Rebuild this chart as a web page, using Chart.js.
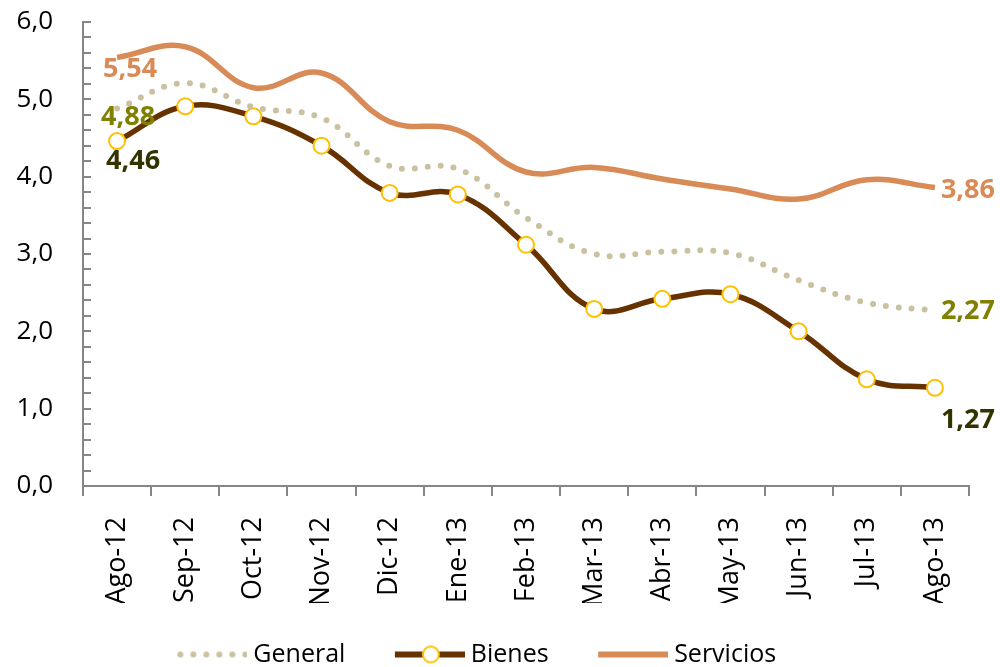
<!DOCTYPE html>
<html>
<head>
<meta charset="utf-8">
<script src="https://cdn.jsdelivr.net/npm/chart.js@4.4.0/dist/chart.umd.min.js"></script>
<style>
  html, body { margin: 0; padding: 0; background: #fff; }
  #wrap { width: 1000px; height: 667px; }
</style>
</head>
<body>
<div id="wrap"><canvas id="chart" width="1000" height="667"></canvas></div>
<script>
const months = ['Ago-12', 'Sep-12', 'Oct-12', 'Nov-12', 'Dic-12', 'Ene-13', 'Feb-13',
                'Mar-13', 'Abr-13', 'May-13', 'Jun-13', 'Jul-13', 'Ago-13'];
const general   = [4.88, 5.21, 4.90, 4.76, 4.14, 4.10, 3.47, 3.00, 3.03, 3.01, 2.66, 2.37, 2.27];
const bienes    = [4.46, 4.91, 4.78, 4.40, 3.79, 3.77, 3.12, 2.29, 2.42, 2.48, 2.00, 1.38, 1.27];
const servicios = [5.54, 5.68, 5.15, 5.34, 4.71, 4.60, 4.06, 4.12, 3.97, 3.84, 3.71, 3.96, 3.86];
const yTicks = [0, 1, 2, 3, 4, 5, 6];

const colGeneral = '#C9C19F';
const colBienes = '#663300';
const colServicios = '#D88B56';
const axisGray = '#868686';

const fmt = v => v.toFixed(2).replace('.', ',');

// where the first/last value labels sit, relative to the point
const labelStyle = [
  { color: '#808000', first: [11, 9],  last: [33, 1] },
  { color: '#333300', first: [16, 20], last: [33, 33] },
  { color: colServicios, first: [13, 12], last: [33, 3] }
];

function legendIcon(kind) {
  const c = document.createElement('canvas');
  c.width = 87; c.height = 22;
  const g = c.getContext('2d');
  const y = 11;
  if (kind === 'dots') {
    g.fillStyle = colGeneral;
    for (let i = 0; i < 6; i++) {
      g.beginPath(); g.arc(20 + i * 13, y, 3, 0, Math.PI * 2); g.fill();
    }
  } else {
    g.strokeStyle = kind === 'bienes' ? colBienes : colServicios;
    g.lineWidth = 6;
    g.beginPath(); g.moveTo(17, y); g.lineTo(87, y); g.stroke();
    if (kind === 'bienes') {
      g.fillStyle = '#fff';
      g.strokeStyle = '#FFC000';
      g.lineWidth = 2;
      g.beginPath(); g.arc(53, y, 8, 0, Math.PI * 2); g.fill(); g.stroke();
    }
  }
  return c;
}
const icons = [legendIcon('dots'), legendIcon('bienes'), legendIcon('servicios')];

const yMinorTicks = {
  id: 'yMinorTicks',
  afterDatasetsDraw(chart) {
    const { ctx, scales: { y }, chartArea } = chart;
    ctx.save();
    ctx.strokeStyle = axisGray;
    ctx.lineWidth = 2;
    for (let i = 0; i <= 30; i++) {
      const py = Math.round(y.getPixelForValue(i * 0.2));
      ctx.beginPath();
      ctx.moveTo(chartArea.left, py);
      ctx.lineTo(chartArea.left + 8, py);
      ctx.stroke();
    }
    ctx.restore();
  }
};

const endLabels = {
  id: 'endLabels',
  afterDatasetsDraw(chart) {
    const ctx = chart.ctx;
    ctx.save();
    ctx.font = 'bold 27px "Open Sans"';
    ctx.textAlign = 'center';
    ctx.textBaseline = 'middle';
    chart.data.datasets.forEach((ds, di) => {
      const meta = chart.getDatasetMeta(di);
      const st = labelStyle[di];
      ctx.fillStyle = st.color;
      const n = ds.data.length - 1;
      [[0, st.first], [n, st.last]].forEach(([i, off]) => {
        const p = meta.data[i];
        ctx.fillText(fmt(ds.data[i]), p.x + off[0], p.y + off[1]);
      });
    });
    ctx.restore();
  }
};

new Chart(document.getElementById('chart'), {
  type: 'line',
  data: {
    labels: months,
    datasets: [
      {
        label: 'General',
        data: general,
        borderColor: colGeneral,
        borderWidth: 6,
        borderDash: [0, 13],
        borderCapStyle: 'round',
        pointRadius: 0,
        tension: 0.4
      },
      {
        label: 'Bienes',
        data: bienes,
        borderColor: colBienes,
        borderWidth: 5.5,
        pointRadius: 8,
        pointBorderWidth: 2,
        pointBackgroundColor: '#fff',
        pointBorderColor: '#FFC000',
        tension: 0.4
      },
      {
        label: 'Servicios',
        data: servicios,
        borderColor: colServicios,
        borderWidth: 5.5,
        pointRadius: 0,
        tension: 0.4
      }
    ]
  },
  options: {
    responsive: false,
    animation: false,
    layout: { padding: { top: 22, right: 31, bottom: -10, left: -26 } },
    plugins: {
      tooltip: { enabled: false },
      legend: {
        position: 'bottom',
        labels: {
          color: '#000',
          font: { family: '"Open Sans"', size: 25 },
          padding: 39,
          usePointStyle: true,
          pointStyleWidth: 74,
          generateLabels: chart => chart.data.datasets.map((ds, i) => ({
            text: ds.label,
            pointStyle: icons[i],
            datasetIndex: i,
            hidden: false,
            lineWidth: 0,
            fontColor: '#000'
          }))
        }
      }
    },
    scales: {
      x: {
        offset: true,
        grid: { drawOnChartArea: false, drawTicks: true, tickLength: 10, color: axisGray, lineWidth: 2, offset: true },
        border: { color: axisGray, width: 2 },
        ticks: {
          color: '#000',
          font: { family: '"Open Sans"', size: 27 },
          minRotation: 90,
          maxRotation: 90,
          padding: 21,
          autoSkip: false
        },
        afterFit: s => { s.height = 117; }
      },
      y: {
        min: 0,
        max: 6,
        afterBuildTicks: s => { s.ticks = yTicks.map(v => ({ value: v })); },
        grid: { drawOnChartArea: false, drawTicks: true, tickLength: 30, tickColor: 'rgba(0,0,0,0)' },
        border: { color: axisGray, width: 2 },
        ticks: {
          color: '#000',
          font: { family: '"Open Sans"', size: 26 },
          padding: 0,
          callback: v => v.toFixed(1).replace('.', ',')
        },
        afterFit: s => { s.width = 109; }
      }
    }
  },
  plugins: [yMinorTicks, endLabels]
});
</script>
</body>
</html>
